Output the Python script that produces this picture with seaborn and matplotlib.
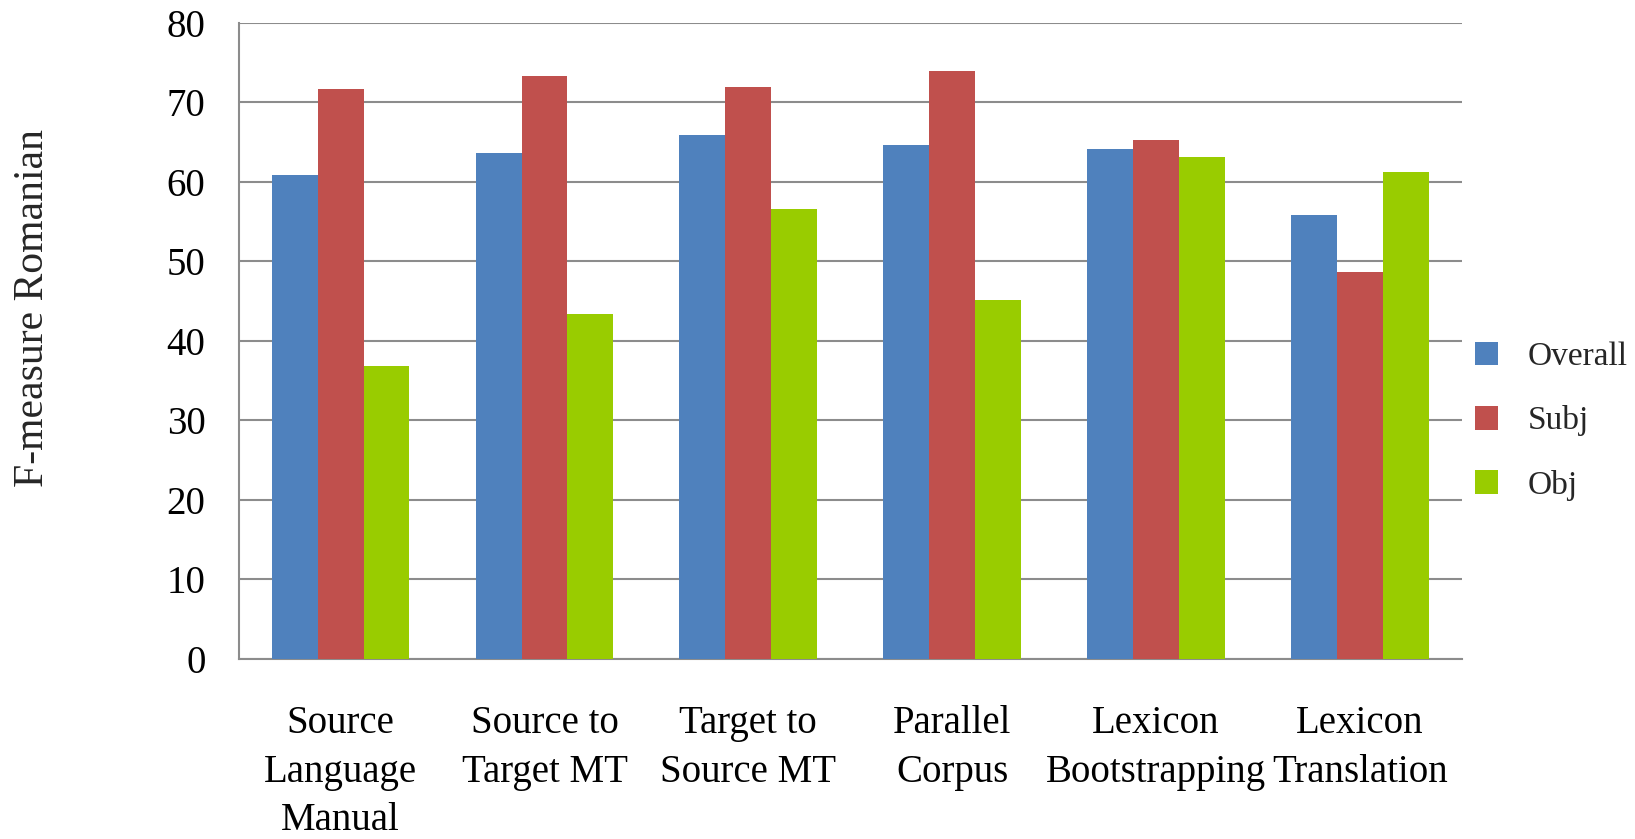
import matplotlib
matplotlib.use("Agg")
import matplotlib.pyplot as plt
import seaborn as sns
import pandas as pd
import numpy as np

# F-measure per method and class
methods = [
    "Source\nLanguage\nManual",
    "Source to\nTarget MT",
    "Target to\nSource MT",
    "Parallel\nCorpus",
    "Lexicon\nBootstrapping",
    "Lexicon\nTranslation",
]
overall = [60.9, 63.7, 65.9, 64.6, 64.2, 55.9]
subj = [71.7, 73.3, 71.9, 73.9, 65.3, 48.7]
obj = [36.9, 43.4, 56.6, 45.1, 63.1, 61.2]
series_names = ["Overall", "Subj", "Obj"]
y_ticks = [0, 10, 20, 30, 40, 50, 60, 70, 80]

colors = ["#4F81BD", "#C0504D", "#99CC00"]
grid_gray = "#8C8C8C"

rows = []
for name, vals in zip(series_names, [overall, subj, obj]):
    for m, v in zip(methods, vals):
        rows.append({"method": m, "series": name, "value": v})
df = pd.DataFrame(rows)

sns.set_theme(style="white")
plt.rcParams["font.family"] = ["Liberation Serif", "DejaVu Serif"]

fig = plt.figure(figsize=(16.35, 8.39), dpi=100)
ax = fig.add_axes([0.146, 0.2146, 0.894 - 0.146, 0.9726 - 0.2146])

sns.barplot(
    data=df, x="method", y="value", hue="series",
    order=methods, hue_order=series_names, palette=colors,
    saturation=1, width=0.675, gap=0, errorbar=None, ax=ax, zorder=3,
)
for p in ax.patches:
    p.set_edgecolor("none")
    p.set_linewidth(0)

ax.set_xlim(-0.5, len(methods) - 0.5)
ax.set_ylim(0, 80)
ax.set_yticks(y_ticks)
ax.set_yticklabels([str(t) for t in y_ticks])

# horizontal gridlines behind bars
ax.yaxis.grid(True, color=grid_gray, linewidth=1.5, zorder=0)
ax.xaxis.grid(False)
ax.set_axisbelow(True)

for side in ["top", "right"]:
    ax.spines[side].set_visible(False)
for side in ["left", "bottom"]:
    ax.spines[side].set_color(grid_gray)
    ax.spines[side].set_linewidth(1.5)

# category boundary ticks (minor) and centered labels (major)
ax.set_xticks(np.arange(-0.5, len(methods) + 0.5, 1), minor=True)
ax.tick_params(axis="x", which="minor", length=10, width=1.2, color=grid_gray, direction="out")
ax.tick_params(axis="x", which="major", length=0, pad=33, labelsize=28, colors="black")
ax.tick_params(axis="y", which="major", length=10, width=1.2, color=grid_gray,
               direction="out", pad=14, labelsize=28, colors="black")
ax.set_xticklabels(methods, linespacing=1.42)
for lbl in ax.get_xticklabels():
    lbl.set_horizontalalignment("center")
    lbl.set_verticalalignment("top")

ax.set_xlabel("")
ax.set_ylabel("F-measure Romanian", fontsize=30, va="center")
ax.yaxis.set_label_coords(-0.168, 0.552)

handles, labels = ax.get_legend_handles_labels()
ax.legend(
    handles, labels, loc="center left", bbox_to_anchor=(0.884, 0.498),
    bbox_transform=fig.transFigure, frameon=False, fontsize=24,
    handlelength=0.68, handleheight=0.72, handletextpad=0.9, labelspacing=1.0,
)

fig.savefig("out.png", dpi=100, facecolor="white")
